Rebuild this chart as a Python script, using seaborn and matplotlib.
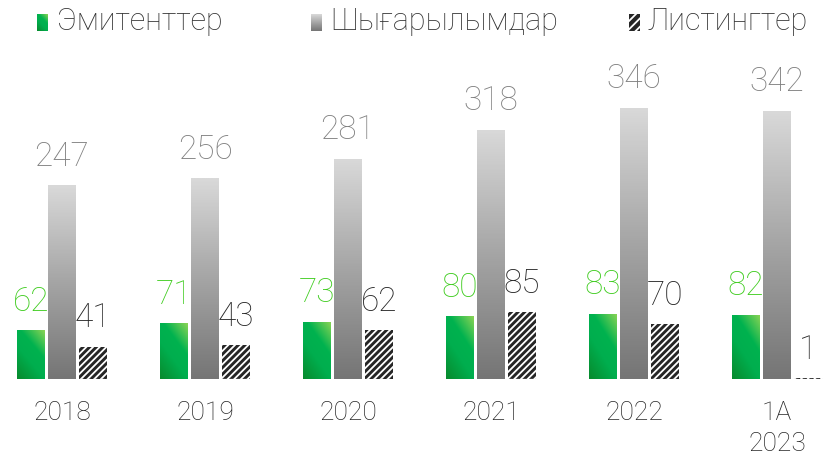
import numpy as np
import pandas as pd
import matplotlib
matplotlib.use("Agg")
import matplotlib.pyplot as plt
import seaborn as sns
from matplotlib.colors import LinearSegmentedColormap
from matplotlib.patches import Rectangle

# ---- data ----
years = ["2018", "2019", "2020", "2021", "2022", "1A\n2023"]
series = ["Эмитенттер", "Шығарылымдар", "Листингтер"]
issuers = [62, 71, 73, 80, 83, 82]
issues = [247, 256, 281, 318, 346, 342]
listings = [41, 43, 62, 85, 70, 1]

sns.set_theme(style="white")
plt.rcParams['font.family'] = ['Roboto', 'DejaVu Sans']
plt.rcParams['hatch.linewidth'] = 1.3

df = pd.DataFrame({
    "year": years * 3,
    "series": [series[0]] * 6 + [series[1]] * 6 + [series[2]] * 6,
    "value": issuers + issues + listings,
})

fig = plt.figure(figsize=(8.25, 4.59), dpi=100)
ax = fig.add_axes([0, 80 / 459, 1, 335 / 459])

sns.barplot(data=df, x="year", y="value", hue="series", hue_order=series,
            order=years, palette=["#00B050", "#A6A6A6", "#262626"],
            width=0.65, gap=0.1, legend=False, ax=ax, saturation=1)

xlim = (-62 / 143, (825 - 62) / 143)
ylim = (0, 427)

green_cmap = LinearSegmentedColormap.from_list(
    "g", [(0, "#088A2D"), (0.4, "#00AE4E"), (0.65, "#00B24F"), (1, "#8AD455")])
gray_cmap = LinearSegmentedColormap.from_list("k", ["#757575", "#A5A5A5", "#D9D9D9"])

gx, gy = np.meshgrid(np.linspace(0, 1, 50), np.linspace(0, 1, 200))
green_grad = 0.4 * gx + 0.6 * gy
gray_grad = gy

patches = list(ax.patches)
n = len(years)
green_p = patches[0:n]
gray_p = patches[n:2 * n]
list_p = patches[2 * n:3 * n]

for p in green_p:
    x0, y0, w, h = p.get_x(), p.get_y(), p.get_width(), p.get_height()
    p.set_facecolor("none")
    p.set_edgecolor("none")
    im = ax.imshow(green_grad, extent=[x0, x0 + w, y0, y0 + h], origin="lower",
                   cmap=green_cmap, aspect="auto", zorder=2, vmin=0, vmax=1)
    im.set_clip_path(p)
for p in gray_p:
    x0, y0, w, h = p.get_x(), p.get_y(), p.get_width(), p.get_height()
    p.set_facecolor("none")
    p.set_edgecolor("none")
    im = ax.imshow(gray_grad, extent=[x0, x0 + w, y0, y0 + h], origin="lower",
                   cmap=gray_cmap, aspect="auto", zorder=2, vmin=0, vmax=1)
    im.set_clip_path(p)
for p in list_p:
    p.set_facecolor("#262626")
    p.set_edgecolor("white")
    p.set_linewidth(0)
    p.set_hatch("/////")
    x0, w = p.get_x(), p.get_width()
    ax.plot([x0, x0 + w], [0, 0], color="#BFBFBF", lw=1, ls=(0, (3, 2)), zorder=3)

label_font = dict(fontsize=24, fontweight="light")
for plist, vals, col in [(green_p, issuers, "#3FCC1F"), (gray_p, issues, "#7F7F7F"),
                         (list_p, listings, "#262626")]:
    for p, v in zip(plist, vals):
        ax.annotate(str(v), (p.get_x() + p.get_width() / 2, p.get_height()),
                    xytext=(0, 9), textcoords="offset points", ha="center", va="bottom",
                    color=col, **label_font)

ax.set_xlim(*xlim)
ax.set_ylim(*ylim)
ax.set_xlabel("")
ax.set_ylabel("")
ax.set_yticks([])
ax.tick_params(axis="x", length=0, pad=16, labelsize=19, labelcolor="#262626")
for t in ax.get_xticklabels():
    t.set_fontweight("light")
    t.set_linespacing(1.35)
for s in ax.spines.values():
    s.set_visible(False)
ax.set_facecolor("none")

# ---- legend (manual) ----
def px(x, y):
    return x / 825, 1 - y / 459

legend_items = [
    (37, 57, "green"),
    (311, 330, "gray"),
    (629, 648, "hatch"),
]
for (sq_x, tx, kind), name in zip(legend_items, series):
    lx, ly = px(sq_x, 31)
    lax = fig.add_axes([lx, ly, 11 / 825, 17 / 459])
    lax.set_axis_off()
    lax.set_xlim(0, 1)
    lax.set_ylim(0, 1)
    if kind == "green":
        lax.imshow(green_grad, extent=[0, 1, 0, 1], origin="lower", cmap=green_cmap,
                   aspect="auto", vmin=0, vmax=1)
    elif kind == "gray":
        lax.imshow(gray_grad, extent=[0, 1, 0, 1], origin="lower", cmap=gray_cmap,
                   aspect="auto", vmin=0, vmax=1)
    else:
        lax.add_patch(Rectangle((0, 0), 1, 1, facecolor="#262626", edgecolor="white",
                                lw=0, hatch="////"))
    fx, fy = px(tx, 22)
    fig.text(fx, fy, name, ha="left", va="center", fontsize=22, fontweight="light",
             color="#333333")

fig.savefig("out.png", dpi=100)
